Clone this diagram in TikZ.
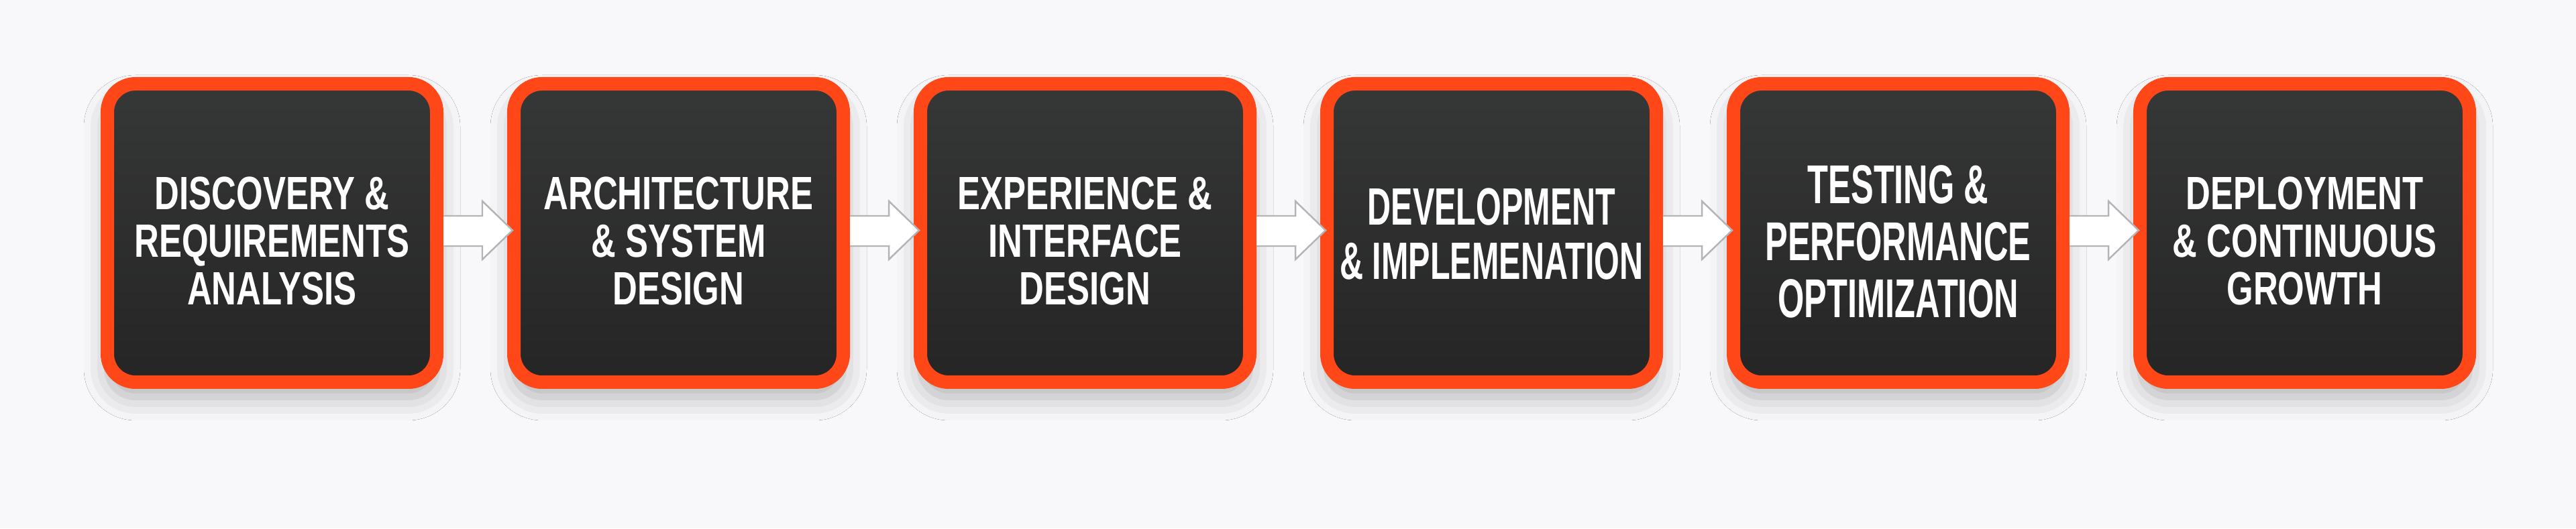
\documentclass[tikz,border=0pt]{standalone}
\usepackage{fontspec}
\setmainfont{Liberation Sans}
\newfontfamily\stagefont{Liberation Sans}[FakeStretch=0.73]
\newfontfamily\stagefontnarrow{Liberation Sans}[FakeStretch=0.62]
\usetikzlibrary{positioning,shadows.blur}
\definecolor{pagebg}{HTML}{F8F8FA}
\definecolor{stageorange}{HTML}{FF4718}
\definecolor{stagetop}{HTML}{363737}
\definecolor{stagebottom}{HTML}{252525}
\definecolor{arrowgray}{HTML}{B4B4B8}
\tikzset{
  stage/.style={draw=stageorange, line width=0.2cm, rounded corners=0.42cm,
    top color=stagetop, bottom color=stagebottom,
    minimum width=4.91cm, minimum height=4.45cm, inner sep=0pt,
    blur shadow={shadow xshift=0cm, shadow yshift=-0.22cm,
      shadow blur radius=0.35cm, shadow opacity=28}},
  stagetext/.style={text=white, align=center,
    font=\stagefont\bfseries\fontsize{19.85pt}{20.2pt}\selectfont},
  stagenarrow/.style={text=white, align=center,
    font=\stagefontnarrow\bfseries\fontsize{22.3pt}{22.8pt}\selectfont},
  flowarrow/.style={draw=arrowgray, line width=0.7pt, fill=white, line join=miter}
}
\begin{document}
\begin{tikzpicture}
    \useasboundingbox[fill=pagebg] (0,0) rectangle (38.4,7.88);
    %%% stages
    \node[stage] (s1) at (4.055,4.405) {};
    \node[stage, right=0.95cm of s1] (s2) {};
    \node[stage, right=0.95cm of s2] (s3) {};
    \node[stage, right=0.95cm of s3] (s4) {};
    \node[stage, right=0.95cm of s4] (s5) {};
    \node[stage, right=0.95cm of s5] (s6) {};
    %%% labels
    \node[stagetext] (t1) at ([yshift=-0.115cm]s1.center) {DISCOVERY \&\\REQUIREMENTS\\ANALYSIS};
    \node[stagetext] (t2) at ([yshift=-0.115cm]s2.center) {ARCHITECTURE\\\& SYSTEM\\DESIGN};
    \node[stagetext] (t3) at ([yshift=-0.115cm]s3.center) {EXPERIENCE \&\\INTERFACE\\DESIGN};
    \node[stagenarrow] (t4) at ([yshift=-0.015cm]s4.center) {DEVELOPMENT\\\& IMPLEMENATION};
    \node[stagenarrow, font=\stagefontnarrow\bfseries\fontsize{23.2pt}{24.2pt}\selectfont]
      (t5) at ([yshift=-0.125cm]s5.center) {TESTING \&\\PERFORMANCE\\OPTIMIZATION};
    \node[stagetext] (t6) at ([yshift=-0.115cm]s6.center) {DEPLOYMENT\\\& CONTINUOUS\\GROWTH};
    %%% arrows
    \foreach \a/\b in {s1/s2, s2/s3, s3/s4, s4/s5, s5/s6}
    \filldraw[flowarrow] ([yshift=-0.195cm]\a.east)
      -- ([xshift=-0.37cm, yshift=-0.195cm]\b.west)
      -- ([xshift=-0.37cm, yshift=-0.395cm]\b.west)
      -- ([xshift=0.08cm, yshift=0.04cm]\b.west)
      -- ([xshift=-0.37cm, yshift=0.475cm]\b.west)
      -- ([xshift=-0.37cm, yshift=0.255cm]\b.west)
      -- ([yshift=0.255cm]\a.east);
\end{tikzpicture}
\end{document}
